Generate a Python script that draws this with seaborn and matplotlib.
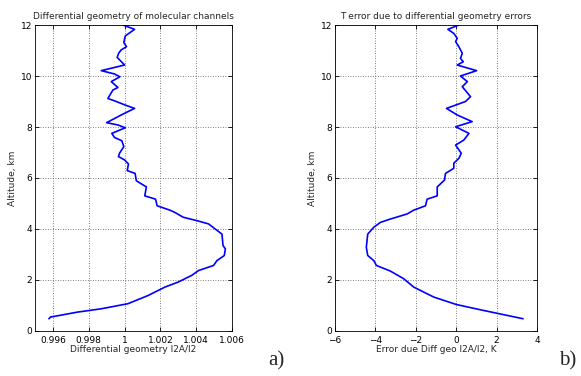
import numpy as np
import pandas as pd
import matplotlib
matplotlib.use("Agg")
import matplotlib.pyplot as plt
import seaborn as sns

# Panel a) data: altitude (km) vs differential geometry I2A/I2
alt_a = [12.0, 11.83, 11.57, 11.31, 11.15, 11.02, 10.89, 10.73, 10.5, 10.43, 10.21, 10.08, 9.97, 9.78,
         9.55, 9.45, 9.12, 9.0, 8.86, 8.73, 8.47, 8.17, 8.08, 7.97, 7.75, 7.59, 7.46, 7.23, 6.97, 6.84,
         6.71, 6.55, 6.29, 6.18, 5.89, 5.65, 5.30, 5.17, 4.91, 4.74, 4.65, 4.46, 4.33, 4.20, 3.80,
         3.35, 3.22, 2.96, 2.76, 2.57, 2.37, 2.18, 1.92, 1.72, 1.39, 1.07, 0.87, 0.74, 0.57, 0.55, 0.48]
geo_a = [0.99991, 1.00056, 1.00004, 0.99996, 1.00011, 0.99981, 0.99967, 0.99959, 0.99991, 1.0, 0.9987,
         0.99944, 0.99974, 0.99926, 0.99963, 0.99935, 0.99907, 0.99954, 1.00004, 1.00056, 0.99981,
         0.999, 0.99963, 1.00004, 0.99929, 0.99944, 0.99985, 0.99996, 0.99972, 0.99966, 1.0, 1.00022,
         1.00015, 1.00059, 1.00066, 1.00122, 1.00113, 1.00173, 1.00182, 1.00253, 1.00281, 1.00328,
         1.00403, 1.00469, 1.00544, 1.0055, 1.00563, 1.00557, 1.00516, 1.00497, 1.00413, 1.00375,
         1.003, 1.00225, 1.00131, 1.00019, 0.99869, 0.99737, 0.99606, 0.99587, 0.99578]

# Panel b) data: altitude (km) vs temperature error (K)
alt_b = [12.0, 11.83, 11.67, 11.48, 11.35, 11.15, 10.89, 10.69, 10.56, 10.43, 10.21, 10.0, 9.78, 9.58,
         9.19, 9.0, 8.73, 8.47, 8.21, 8.01, 7.75, 7.49, 7.29, 6.97, 6.77, 6.58, 6.38, 6.18, 5.92, 5.65,
         5.30, 5.17, 4.91, 4.74, 4.59, 4.39, 4.26, 4.07, 3.80, 3.28, 2.96, 2.76, 2.57, 2.35, 2.05,
         1.72, 1.33, 1.04, 0.83, 0.61, 0.48]
err_b = [0.13, -0.41, -0.12, 0.05, -0.03, 0.13, 0.30, 0.21, 0.35, 0.05, 1.01, 0.21, 0.55, 0.30, 0.71,
         0.46, -0.48, 0.05, 0.79, -0.03, 0.63, 0.38, -0.03, 0.25, 0.13, -0.12, -0.12, -0.53, -0.58,
         -0.94, -0.94, -1.44, -1.52, -2.10, -2.43, -3.26, -3.75, -4.08, -4.38, -4.45, -4.38, -4.08,
         -3.95, -3.26, -2.60, -2.10, -1.11, 0.0, 1.21, 2.53, 3.31]

xticks_a = [0.996, 0.998, 1.0, 1.002, 1.004, 1.006]
xticklabels_a = ["0.996", "0.998", "1", "1.002", "1.004", "1.006"]
xticks_b = [-6, -4, -2, 0, 2, 4]
yticks = [0, 2, 4, 6, 8, 10, 12]

sns.set_theme(style="white")
plt.rcParams['font.family'] = ['DejaVu Sans']

fig = plt.figure(figsize=(5.81, 3.76), dpi=100)
ax1 = fig.add_axes([0.0602, 0.1197, 0.3391, 0.8138])
ax2 = fig.add_axes([0.5766, 0.1197, 0.3477, 0.8138])

df_a = pd.DataFrame({"x": geo_a, "y": alt_a})
df_b = pd.DataFrame({"x": err_b, "y": alt_b})

sns.lineplot(data=df_a, x="x", y="y", sort=False, estimator=None, color="#0000ff", lw=1.2, ax=ax1)
sns.lineplot(data=df_b, x="x", y="y", sort=False, estimator=None, color="#0000ff", lw=1.2, ax=ax2)

fs = 6.5
for ax in (ax1, ax2):
    ax.set_ylim(0, 12)
    ax.set_yticks(yticks)
    ax.set_yticklabels([str(v) for v in yticks])
    ax.grid(True, linestyle=(0, (1, 2)), color="#555555", linewidth=0.6)
    ax.tick_params(direction="in", length=3, labelsize=fs, pad=2, colors="black",
                   top=True, right=True, left=True, bottom=True, width=0.6)
    ax.tick_params(axis="x", pad=3.5)
    for s in ax.spines.values():
        s.set_color("black")
        s.set_linewidth(0.6)
    ax.set_ylabel("Altitude, km", fontsize=fs, labelpad=3)

ax1.set_xlim(0.995, 1.006)
ax1.set_xticks(xticks_a)
ax1.set_xticklabels(xticklabels_a)
ax1.set_xlabel("Differential geometry I2A/I2", fontsize=fs, labelpad=0)
ax1.set_title("Differential geometry of molecular channels", fontsize=fs, pad=4)

ax2.set_xlim(-6, 4)
ax2.set_xticks(xticks_b)
ax2.set_xticklabels([str(v) if v >= 0 else "\u2212" + str(-v) for v in xticks_b])
ax2.set_xlabel("Error due Diff geo I2A/I2, K", fontsize=fs, labelpad=0)
ax2.set_title("T error due to differential geometry errors", fontsize=fs, pad=4)

fig.text(0.462, 0.028, "a)", fontsize=15, family="Liberation Serif")
fig.text(0.962, 0.028, "b)", fontsize=15, family="Liberation Serif")

fig.savefig("out.png", dpi=100, facecolor="white")
